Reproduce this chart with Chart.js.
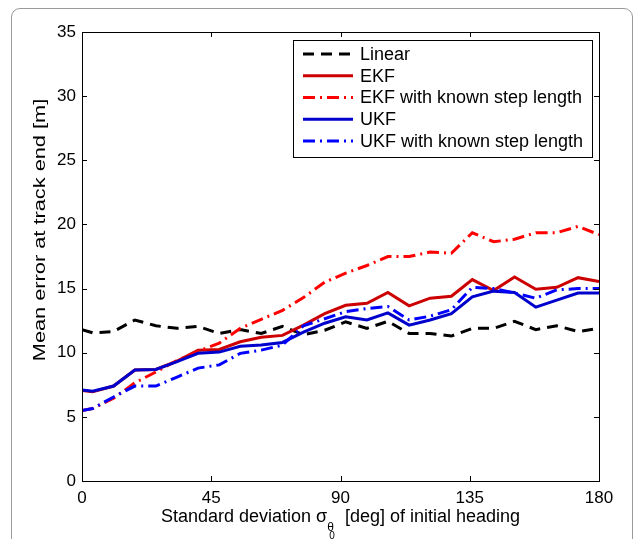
<!DOCTYPE html>
<html>
<head>
<meta charset="utf-8">
<script src="https://cdn.jsdelivr.net/npm/chart.js@4.4.0/dist/chart.umd.min.js"></script>
<style>
  html, body { margin: 0; padding: 0; background: #fff; }
  #wrap { position: relative; width: 636px; height: 539px; overflow: hidden; }
  #frame { position: absolute; left: 11px; top: 8px; width: 622px; height: 560px;
           border: 1px solid #9a9a9a; border-radius: 9px; box-sizing: border-box; }
  canvas { position: absolute; left: 0; top: 0; }
</style>
</head>
<body>
<div id="wrap">
  <div id="frame"></div>
  <canvas id="chart" width="636" height="539"></canvas>
</div>
<script>
// standard deviation of initial heading [deg]
const sigmaDeg = [0, 3.7, 11.0, 18.4, 25.7, 33.1, 40.4, 47.8, 55.1, 62.4, 69.8, 77.1, 84.5,
                  91.8, 99.2, 106.5, 113.9, 121.2, 128.6, 135.9, 143.3, 150.6, 158.0, 165.3, 172.7, 180];

// mean error at track end [m]
const linearErr   = [11.8, 11.55, 11.65, 12.55, 12.1, 11.9, 12.05, 11.5, 11.8, 11.5, 12.05, 11.4, 11.75,
                     12.4, 11.9, 12.45, 11.5, 11.5, 11.3, 11.9, 11.9, 12.45, 11.8, 12.1, 11.65, 11.9];
const ekfErr      = [7.05, 6.95, 7.4, 8.65, 8.7, 9.35, 10.2, 10.25, 10.85, 11.2, 11.35, 12.15, 13.05,
                     13.7, 13.85, 14.7, 13.65, 14.25, 14.4, 15.7, 14.85, 15.9, 14.95, 15.1, 15.85, 15.55];
const ekfKnownErr = [5.5, 5.65, 6.45, 7.65, 8.5, 9.4, 10.1, 10.75, 11.9, 12.6, 13.3, 14.3, 15.5,
                     16.2, 16.8, 17.5, 17.5, 17.85, 17.75, 19.35, 18.65, 18.85, 19.35, 19.35, 19.85, 19.2];
const ukfErr      = [7.1, 7.0, 7.4, 8.65, 8.7, 9.3, 9.95, 10.05, 10.5, 10.6, 10.8, 11.6, 12.3,
                     12.8, 12.55, 13.1, 12.15, 12.55, 13.05, 14.35, 14.8, 14.7, 13.55, 14.1, 14.65, 14.65];
const ukfKnownErr = [5.5, 5.65, 6.55, 7.4, 7.4, 8.1, 8.8, 9.05, 9.95, 10.2, 10.6, 12.1, 12.65,
                     13.2, 13.45, 13.6, 12.55, 12.85, 13.35, 15.1, 15.0, 14.65, 14.25, 14.9, 15.0, 15.0];

const xTicks = [0, 45, 90, 135, 180];
const yTicks = [0, 5, 10, 15, 20, 25, 30, 35];

const FONT = '"Liberation Sans", Arial, Helvetica, sans-serif';
const dashed = [11, 7];
const dashDot = [12, 5, 2, 5];

const pts = ys => sigmaDeg.map((x, i) => ({ x: x, y: ys[i] }));

const series = [
  { label: 'Linear', data: pts(linearErr), borderColor: '#000000', borderDash: dashed, order: 5 },
  { label: 'EKF', data: pts(ekfErr), borderColor: '#cc0000', borderDash: [], order: 4 },
  { label: 'EKF with known step length', data: pts(ekfKnownErr), borderColor: '#ff0000', borderDash: dashDot, order: 3 },
  { label: 'UKF', data: pts(ukfErr), borderColor: '#0000cc', borderDash: [], order: 2 },
  { label: 'UKF with known step length', data: pts(ukfKnownErr), borderColor: '#0000ff', borderDash: dashDot, order: 1 }
];

// axes box, inward ticks, titles and legend drawn in Matlab style
const matlabAxes = {
  id: 'matlabAxes',
  afterDatasetsDraw(chart) {
    const ctx = chart.ctx;
    const a = chart.chartArea;
    const xs = chart.scales.x, ys = chart.scales.y;
    ctx.save();
    ctx.strokeStyle = '#000';
    ctx.lineWidth = 1;
    ctx.setLineDash([]);
    ctx.strokeRect(Math.round(a.left) + 0.5, Math.round(a.top) + 0.5,
                   Math.round(a.right - a.left), Math.round(a.bottom - a.top));
    ctx.beginPath();
    xTicks.forEach(v => {
      const px = Math.round(xs.getPixelForValue(v)) + 0.5;
      ctx.moveTo(px, a.bottom); ctx.lineTo(px, a.bottom - 5);
      ctx.moveTo(px, a.top); ctx.lineTo(px, a.top + 5);
    });
    yTicks.forEach(v => {
      const py = Math.round(ys.getPixelForValue(v)) + 0.5;
      ctx.moveTo(a.left, py); ctx.lineTo(a.left + 5, py);
      ctx.moveTo(a.right, py); ctx.lineTo(a.right - 5, py);
    });
    ctx.stroke();

    // legend
    const lx = 293, ly = 40, lw = 299, lh = 117;
    ctx.fillStyle = '#fff';
    ctx.fillRect(lx, ly, lw, lh);
    ctx.strokeRect(lx + 0.5, ly + 0.5, lw, lh);
    ctx.font = '18px ' + FONT;
    ctx.textBaseline = 'middle';
    ctx.textAlign = 'left';
    chart.data.datasets.forEach((ds, i) => {
      const y = 54 + i * 21.75;
      ctx.beginPath();
      ctx.strokeStyle = ds.borderColor;
      ctx.lineWidth = 3;
      ctx.setLineDash(ds.borderDash);
      ctx.moveTo(303, y); ctx.lineTo(353, y);
      ctx.stroke();
      ctx.fillStyle = '#000';
      ctx.fillText(ds.label, 360, y + 1);
    });
    ctx.setLineDash([]);

    // y title (figure is stretched vertically, so the rotated label runs longer)
    ctx.fillStyle = '#000';
    ctx.save();
    ctx.translate(40, 230);
    ctx.rotate(-Math.PI / 2);
    ctx.scale(1.28, 1);
    ctx.textAlign = 'center';
    ctx.textBaseline = 'middle';
    ctx.font = '17px ' + FONT;
    ctx.fillText('Mean error at track end [m]', 0, 0);
    ctx.restore();

    // x title with subscripts
    const p1 = 'Standard deviation \u03c3', sub1 = '\u03b8', sub2 = '0', p2 = '  [deg] of initial heading';
    ctx.textBaseline = 'alphabetic';
    ctx.textAlign = 'left';
    ctx.font = '18px ' + FONT;
    const w1 = ctx.measureText(p1).width, w4 = ctx.measureText(p2).width;
    ctx.font = '12px ' + FONT;
    const w2 = ctx.measureText(sub1).width;
    const total = w1 + w2 + 1 + w4;
    let x0 = (a.left + a.right) / 2 - total / 2;
    const base = 522;
    ctx.font = '18px ' + FONT;
    ctx.fillText(p1, x0, base);
    ctx.font = '12px ' + FONT;
    ctx.fillText(sub1, x0 + w1, base + 9);
    ctx.font = '10px ' + FONT;
    ctx.fillText(sub2, x0 + w1 + 2, base + 17);
    ctx.font = '18px ' + FONT;
    ctx.fillText(p2, x0 + w1 + w2 + 1, base);
    ctx.restore();
  }
};

new Chart(document.getElementById('chart').getContext('2d'), {
  type: 'line',
  data: {
    datasets: series.map(s => ({
      label: s.label,
      data: s.data,
      borderColor: s.borderColor,
      backgroundColor: s.borderColor,
      borderDash: s.borderDash,
      borderWidth: 3,
      pointRadius: 0,
      tension: 0,
      fill: false,
      order: s.order
    }))
  },
  options: {
    responsive: false,
    animation: false,
    devicePixelRatio: 1,
    layout: { padding: { top: 32, right: 37, left: 0, bottom: 0 } },
    plugins: { legend: { display: false }, tooltip: { enabled: false } },
    scales: {
      x: {
        type: 'linear', min: 0, max: 180,
        afterBuildTicks: axis => { axis.ticks = xTicks.map(v => ({ value: v })); },
        afterFit: axis => { axis.height = 58; },
        grid: { display: false, drawTicks: false },
        border: { display: false },
        ticks: { color: '#000', font: { family: FONT, size: 17 }, padding: 7, maxRotation: 0 }
      },
      y: {
        min: 0, max: 35,
        afterBuildTicks: axis => { axis.ticks = yTicks.map(v => ({ value: v })); },
        afterFit: axis => { axis.width = 82; },
        grid: { display: false, drawTicks: false },
        border: { display: false },
        ticks: { color: '#000', font: { family: FONT, size: 17 }, padding: 6 }
      }
    }
  },
  plugins: [matlabAxes]
});
</script>
</body>
</html>
